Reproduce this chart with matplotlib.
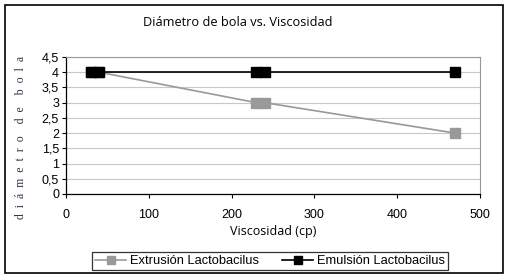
import matplotlib.pyplot as plt
from matplotlib.patches import Rectangle

# data
visc = [30, 40, 230, 240, 470]
extrusion = [4, 4, 3, 3, 2]
emulsion = [4, 4, 4, 4, 4]
xticks = [0, 100, 200, 300, 400, 500]
yticks = [0, 0.5, 1, 1.5, 2, 2.5, 3, 3.5, 4, 4.5]
ylabels = ['0', '0,5', '1', '1,5', '2', '2,5', '3', '3,5', '4', '4,5']

W, H = 507, 280
fig = plt.figure(figsize=(W / 100, H / 100), dpi=100)
ax = fig.add_axes([66 / W, 1 - 194 / H, (480 - 66) / W, (194 - 57) / H])

ax.plot(visc, extrusion, color='#999999', lw=1.2, marker='s', ms=6.5,
        mec='#999999', mfc='#999999', label='Extrusión Lactobacilus', zorder=3)
ax.plot(visc, emulsion, color='black', lw=1.2, marker='s', ms=6.5,
        mec='black', mfc='black', label='Emulsión Lactobacilus', zorder=4)

ax.set_xlim(0, 500)
ax.set_ylim(0, 4.5)
ax.set_xticks(xticks)
ax.set_yticks(yticks)
ax.set_yticklabels(ylabels)
ax.grid(axis='y', color='#c8c8c8', lw=0.8)
ax.set_axisbelow(True)
for s in ['top', 'right']:
    ax.spines[s].set_color('#999999')
    ax.spines[s].set_linewidth(0.8)
for s in ['left', 'bottom']:
    ax.spines[s].set_color('black')
    ax.spines[s].set_linewidth(0.9)
ax.tick_params(direction='out', length=3, width=0.8, pad=2,
               labelsize=9, labelfontfamily='Liberation Sans')
ax.tick_params(axis='x', pad=8)

ax.set_xlabel('Viscosidad (cp)', fontsize=9, family='Open Sans', labelpad=3)
fig.text(238 / W, 1 - 22 / H, 'Diámetro de bola vs. Viscosidad', fontsize=9.2,
         family='Open Sans', ha='center', va='center')
fig.text(21 / W, 1 - 137 / H, 'd  i  á  m  e  t  r  o    d  e    b  o  l  a',
         fontsize=8.5, family='Liberation Serif', color='#3a2f45', rotation=90,
         ha='center', va='center')

leg = fig.legend(loc='center', bbox_to_anchor=(270 / W, 1 - 261 / H), ncol=2,
                 frameon=True, fancybox=False,
                 prop={'family': 'Liberation Sans', 'size': 9.3},
                 handlelength=2.4, handletextpad=0.3, columnspacing=1.8,
                 borderpad=0.2, markerscale=0.9)
leg.get_frame().set_edgecolor('black')
leg.get_frame().set_linewidth(0.9)

fig.patches.append(Rectangle((4.5 / W, 1 - 273 / H), (503 - 4.5) / W, (273 - 4.5) / H,
                             transform=fig.transFigure, fill=False,
                             edgecolor='black', lw=1.2))

fig.savefig('out.png', dpi=100)
